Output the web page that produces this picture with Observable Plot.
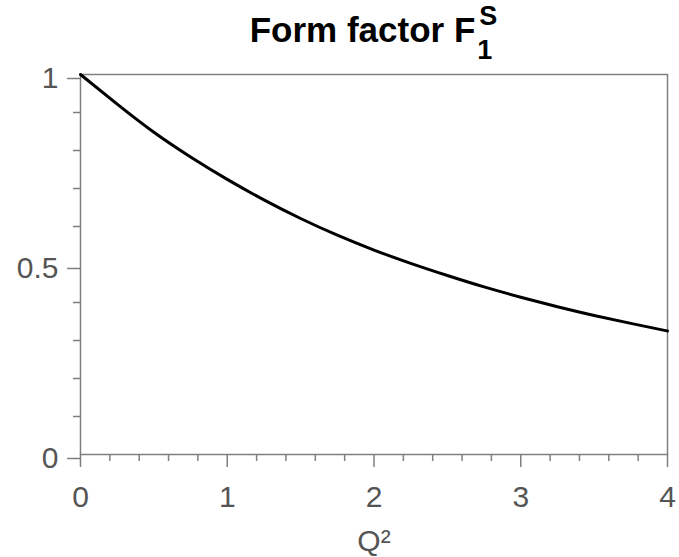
<!DOCTYPE html>
<html>
<head>
<meta charset="utf-8">
<script src="https://cdn.jsdelivr.net/npm/d3@7"></script>
<script src="https://cdn.jsdelivr.net/npm/@observablehq/plot@0.6"></script>
<style>
  html, body { margin: 0; padding: 0; background: #fff; }
  body { width: 679px; height: 557px; overflow: hidden; font-family: "Liberation Sans", Arial, sans-serif; }
  .title { display: flex; justify-content: center; align-items: flex-start; height: 50px; overflow: visible;
           box-sizing: border-box; padding-left: 69px; font-weight: bold; color: #000; position: relative; z-index: 1; }
  .title .main { font-size: 35px; line-height: 35px; margin-top: 12.4px; white-space: pre; }
  .title .scr { position: relative; width: 19px; margin-left: 4px; }
  .title .scr span { position: absolute; font-size: 27px; line-height: 30px; }
  .title .sup { left: 0; top: 1px; }
  .title .sub { left: -2px; top: 34.5px; }
  svg { display: block; overflow: visible; }
</style>
</head>
<body>
<div class="title"><span class="main">Form factor F</span><span class="scr"><span class="sup">S</span><span class="sub">1</span></span></div>
<div id="chart"></div>
<script>
// Q^2 sample points and form factor values
const q2  = [0, 0.25, 0.5, 0.75, 1.0, 1.25, 1.5, 1.75, 2.0, 2.25, 2.5, 2.75, 3.0, 3.25, 3.5, 3.75, 4.0];
const f1s = [1.000, 0.922, 0.848, 0.783, 0.724, 0.670, 0.621, 0.577, 0.538, 0.503, 0.471, 0.441, 0.414, 0.389, 0.366, 0.345, 0.325];

const xTicks = [0, 1, 2, 3, 4];
const xMinorTicks = [0.2, 0.4, 0.6, 0.8, 1.2, 1.4, 1.6, 1.8, 2.2, 2.4, 2.6, 2.8, 3.2, 3.4, 3.6, 3.8];
const yTicks = [0, 0.5, 1];
const yTickLabels = ["0", "0.5", "1"];
const yMinorTicks = [0.1, 0.2, 0.3, 0.4, 0.6, 0.7, 0.8, 0.9];
const xLabel = "Q²";

const data = q2.map((q, i) => ({q, f: f1s[i]}));
const axisColor = "#7f7f7f";
const textColor = "#555555";

const chart = Plot.plot({
  width: 679,
  height: 507,
  marginTop: 24,
  marginBottom: 103,
  marginLeft: 80,
  marginRight: 12,
  style: {fontFamily: "'Liberation Sans', Arial, sans-serif", fontSize: "30px", background: "transparent", color: textColor},
  x: {domain: [0, 4]},
  y: {domain: [0, 1]},
  marks: [
    Plot.axisX({ticks: xMinorTicks, tickSize: 7, text: null, stroke: axisColor, strokeWidth: 1.5, label: null}),
    Plot.axisX({ticks: xTicks, tickSize: 13, tickPadding: 18, stroke: axisColor, strokeWidth: 1.5, fill: textColor, fontSize: 30, label: null, tickFormat: d => String(d)}),
    Plot.axisY({ticks: yMinorTicks, tickSize: 7, text: null, stroke: axisColor, strokeWidth: 1.5, label: null}),
    Plot.axisY({ticks: yTicks, tickSize: 13, tickPadding: 9, dy: 4, stroke: axisColor, strokeWidth: 1.5, fill: textColor, fontSize: 30, label: null, tickFormat: d => yTickLabels[yTicks.indexOf(d)]}),
    Plot.frame({stroke: axisColor, strokeWidth: 1.5}),
    Plot.line(data, {x: "q", y: "f", stroke: "#000", strokeWidth: 3, curve: "natural"}),
    Plot.text([xLabel], {frameAnchor: "bottom", dy: 87, text: d => d, fontSize: 30, fill: textColor, lineAnchor: "middle"})
  ]
});
document.getElementById("chart").appendChild(chart);
</script>
</body>
</html>
